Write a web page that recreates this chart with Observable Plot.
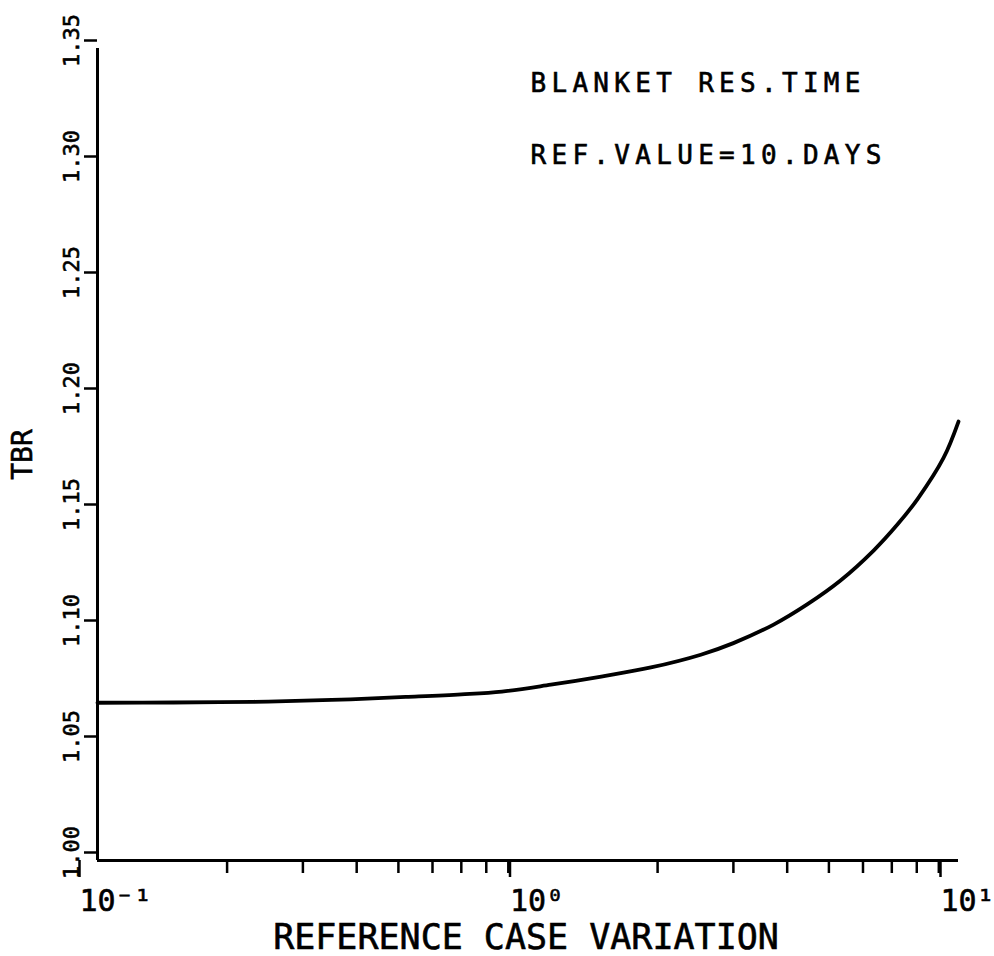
<!DOCTYPE html>
<html>
<head>
<meta charset="utf-8">
<script src="https://cdn.jsdelivr.net/npm/d3@7"></script>
<script src="https://cdn.jsdelivr.net/npm/@observablehq/plot@0.6"></script>
<style>
  html, body { margin: 0; padding: 0; background: #fff; overflow: hidden; }
  svg { display: block; }
</style>
</head>
<body>
<div id="chart"></div>
<script>
// Data
const variation = [0.1, 0.15, 0.23, 0.35, 0.52, 0.7, 0.87, 1.13, 1.48, 1.93, 2.52, 3.0, 3.72, 4.46, 5.32, 6.35, 7.22, 8.04, 9.23, 10];
const tbr = [1.0680, 1.0681, 1.0684, 1.0692, 1.0705, 1.0716, 1.0728, 1.0758, 1.0793, 1.0832, 1.0887, 1.0937, 1.1017, 1.1105, 1.1207, 1.1336, 1.1449, 1.1559, 1.1735, 1.1892];

const xMajorTicks = [0.1, 1, 10];
const xMajorLabels = ["10⁻¹", "10⁰", "10¹"];
const xMinorTicks = [0.2, 0.3, 0.4, 0.5, 0.6, 0.7, 0.8, 0.9, 2, 3, 4, 5, 6, 7, 8, 9];
const yTicks = [1.00, 1.05, 1.10, 1.15, 1.20, 1.25, 1.30, 1.35];
const notes = ["BLANKET RES.TIME\nREF.VALUE=10.DAYS"];
const xLabel = "REFERENCE CASE VARIATION";
const yLabel = "TBR";

const data = variation.map((x, i) => ({x, y: tbr[i]}));
const font = "DejaVu Sans Mono";

const chart = Plot.plot({
  width: 994,
  height: 956,
  marginLeft: 97,
  marginRight: 36,
  marginTop: 48,
  marginBottom: 96,
  style: {fontFamily: font, background: "#fff", color: "#000"},
  x: {type: "log", domain: [0.1, 10]},
  y: {domain: [1.0, 1.35]},
  marks: [
    Plot.axisX({ticks: xMinorTicks, tickSize: 13, strokeWidth: 2.5, tickFormat: () => "", label: null}),
    Plot.axisX({ticks: xMajorTicks, tickSize: 17, strokeWidth: 2.5, tickPadding: 12,
      tickFormat: d => xMajorLabels[xMajorTicks.indexOf(d)], fontSize: 30,
      textAnchor: "start", dx: -18, label: null}),
    Plot.axisY({ticks: yTicks, tickSize: 13, strokeWidth: 2.5, tickPadding: 6, tickRotate: -90,
      tickFormat: d3.format(".2f"), fontSize: 22, dy: -8, label: null}),
    Plot.ruleX([0.1], {strokeWidth: 3}),
    Plot.ruleY([1.0], {strokeWidth: 3}),
    Plot.line(data, {x: "x", y: "y", strokeWidth: 3.8, curve: "catmull-rom"}),
    Plot.text(notes, {frameAnchor: "top-left", dx: 433, dy: -7, lineAnchor: "top",
      fontSize: 26, lineHeight: 2.75}),
    Plot.text([xLabel], {frameAnchor: "bottom", dy: 88, lineAnchor: "bottom", fontSize: 35, dx: -2}),
    Plot.text([yLabel], {frameAnchor: "left", dx: -74, rotate: -90, textAnchor: "middle", fontSize: 28})
  ]
});

d3.select(chart).selectAll("text")
  .style("stroke", "#000").style("stroke-width", "0.6px");
d3.select(chart).selectAll("text")
  .filter(function() { return this.textContent.startsWith("BLANKET"); })
  .style("letter-spacing", "5.3px");
document.getElementById("chart").appendChild(chart);
</script>
</body>
</html>
